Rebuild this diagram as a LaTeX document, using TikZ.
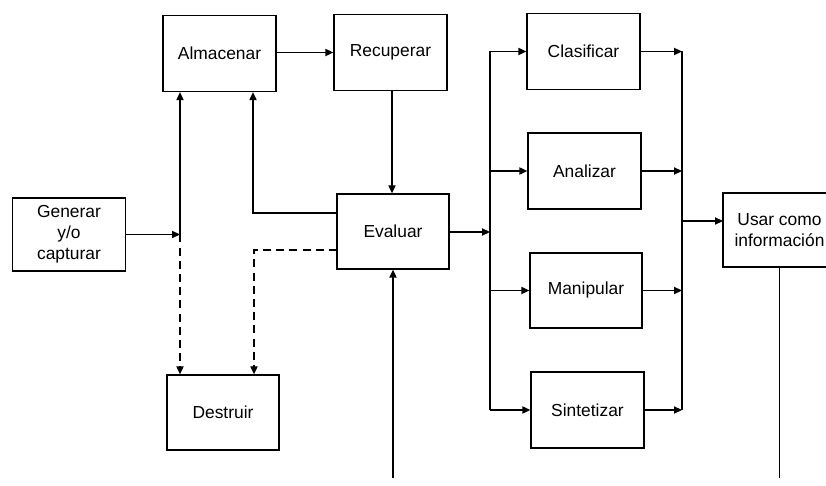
\documentclass[tikz,border=0pt]{standalone}
\usepackage{fontspec}
\setmainfont{Liberation Sans}
\usetikzlibrary{arrows.meta}
\begin{document}
\begin{tikzpicture}[x=0.5pt,y=-0.5pt,
  box/.style={draw, line width=0.65pt, inner sep=0pt,
    minimum width=56.5pt, minimum height=38pt, align=center,
    font=\fontsize{8.7}{10.5}\selectfont},
  link/.style={line width=0.65pt},
  arr/.style={link, -{Triangle[length=4pt,width=3.6pt]}},
  brk/.style={link, dash pattern=on 4pt off 2.6pt},
  brkarr/.style={brk, -{Triangle[length=4pt,width=3.6pt]}}
]
\useasboundingbox (0,0) rectangle (826,486);
\clip (0,0) rectangle (826,486);

% process boxes
\node[box, minimum height=36.5pt] (gen) at (69,234.5) {Generar\\y/o\\capturar};
\node[box] (alm) at (219.5,53.5) {Almacenar};
\node[box] (rec) at (390.5,52.5) {Recuperar};
\node[box, minimum width=56pt, minimum height=37.5pt] (eva) at (393,231.5) {Evaluar};
\node[box, minimum width=56pt, minimum height=37.5pt] (des) at (223,412.5) {Destruir};
\node[box] (cla) at (583.5,51.5) {Clasificar};
\node[box] (ana) at (584.5,171) {Analizar};
\node[box, minimum width=56pt, minimum height=37.5pt] (man) at (586,290.5) {Manipular};
\node[box] (sin) at (587.5,410) {Sintetizar};
\node[box, minimum height=37pt] (usa) at (779.5,230) {Usar como\\información};

% junction points
\coordinate (j1) at (180,234.5);
\coordinate (ev1) at (337,213);
\coordinate (ev2) at (337,250);
\coordinate (c1) at (253,213);
\coordinate (c2) at (254,250);
\coordinate (j2) at (490,232);
\coordinate (sp) at (490,51.5);
\coordinate (sq) at (490,410);
\coordinate (mg) at (682,51.5);
\coordinate (mh) at (682,410);
\coordinate (j3) at (682,221);
\coordinate (usin) at (723,221);
\coordinate (lu) at (779.5,478);
\coordinate (le) at (393,478);

% generate, store, destroy
\draw[arr] (gen.east |- j1) -- (j1);
\draw[arr] (j1) -- (j1 |- alm.south);
\draw[brkarr] (j1) -- (j1 |- des.north);

% feedback from evaluation
\draw[arr] (ev1) -- (c1) -- (c1 |- alm.south);
\draw[brkarr] (ev2) -- (c2) -- (c2 |- des.north);

% store, retrieve, evaluate
\draw[arr] (alm.east |- rec.west) -- (rec.west);
\draw[arr] (rec.south |- rec.south) ++(1.5,0) coordinate (rs) -- (rs |- eva.north);
\draw[arr] (eva.east |- j2) -- (j2);

% fan out to the four operations
\draw[link] (sp) -- (sq);
\draw[arr] (sp) -- (cla.west |- sp);
\draw[arr] (490,171) -- (ana.west |- 0,171);
\draw[arr] (490,290.5) -- (man.west |- 0,290.5);
\draw[arr] (sq) -- (sin.west |- sq);

% gather into use as information
\draw[arr] (cla.east) -- (mg);
\draw[arr] (ana.east) -- (682,171);
\draw[arr] (man.east) -- (682,290.5);
\draw[arr] (sin.east) -- (mh);
\draw[link] (mg) -- (mh);
\draw[arr] (j3) -- (usin);

% loop back to evaluation
\draw[link] (usa.south) -- (lu);
\draw[arr] (le) -- (eva.south);
\end{tikzpicture}
\end{document}
